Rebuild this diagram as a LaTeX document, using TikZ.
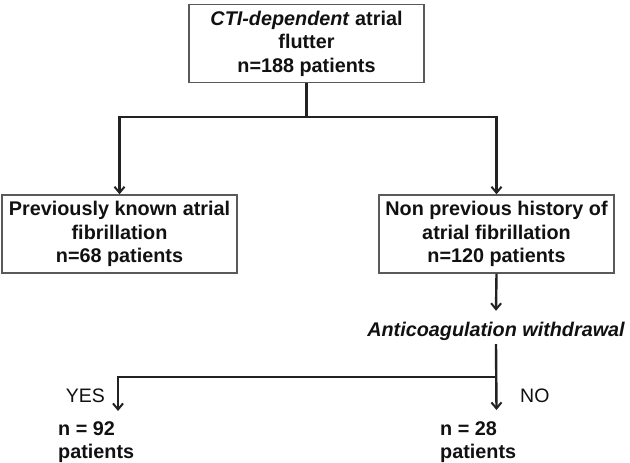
\documentclass[tikz,border=0pt]{standalone}
\usepackage{fontspec}
\setmainfont{Liberation Sans}
\usetikzlibrary{arrows.meta}
\definecolor{boxline}{HTML}{5A5A5A}
\definecolor{conn}{HTML}{222222}
\definecolor{txt}{HTML}{111111}
\tikzset{
  box/.style={draw=boxline, line width=1.4bp, minimum width=235bp, minimum height=78bp,
    align=center, inner sep=2bp, text=txt, font=\fontsize{19.8bp}{23.5bp}\selectfont\bfseries},
  conline/.style={draw=conn, line width=2.4bp},
  arr/.style={conline, -{Straight Barb[length=6bp,width=10bp,line width=2bp]}},
  lbl/.style={inner sep=0pt, text=txt, font=\fontsize{19.5bp}{23bp}\selectfont},
  res/.style={inner sep=0pt, text=txt, align=left, font=\fontsize{19.8bp}{23.5bp}\selectfont\bfseries}
}
\begin{document}
\begin{tikzpicture}[x=1bp,y=-1bp]
\useasboundingbox[fill=white] (0,0) rectangle (630,463);
\node[box] (top) at (306.5,43.5) {\textit{CTI-dependent} atrial\\flutter\\n=188 patients};
\node[box] (left) at (119.5,234) {Previously known atrial\\fibrillation\\n=68 patients};
\node[box] (right) at (496.5,234) {Non previous history of\\atrial fibrillation\\n=120 patients};
\node[lbl, font=\fontsize{19.8bp}{23bp}\selectfont\bfseries\itshape, anchor=base,
  text height=14bp, text depth=4bp, inner xsep=0pt, inner ysep=4bp] (anti) at (496,336) {Anticoagulation withdrawal};
\node[lbl, anchor=east] (yes) at (105,396) {YES};
\node[lbl, anchor=west] (no) at (520,396) {NO};
\node[res, anchor=north west] (r92) at (58,421) {n = 92\\patients};
\node[res, anchor=north west] (r28) at (440,421) {n = 28\\patients};
\coordinate (j1) at (306.5,117);
\coordinate (j2) at (496.5,377);
\coordinate (yesend) at (118,411);
\coordinate (noend) at (496.5,410);
\draw[conline] (top.south) -- (j1);
\draw[arr] (j1) -| (left.north);
\draw[arr] (j1) -| (right.north);
\draw[arr] (right.south) -- ([yshift=7bp]anti.north);
\draw[arr] (anti.south) -- (noend);
\draw[arr] (j2) -| (yesend);
\end{tikzpicture}
\end{document}
